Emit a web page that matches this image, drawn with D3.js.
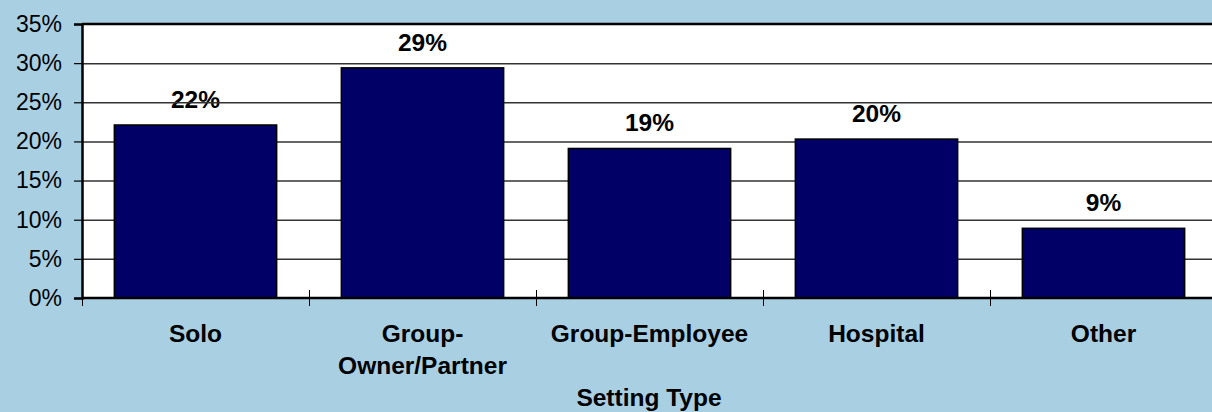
<!DOCTYPE html>
<html>
<head>
<meta charset="utf-8">
<script src="https://cdn.jsdelivr.net/npm/d3@7"></script>
<style>
  body { margin: 0; background: #a9cfe3; }
  svg { display: block; font-family: Arial, "Liberation Sans", sans-serif; }
</style>
</head>
<body>
<svg width="1212" height="412"></svg>
<script>
const categories = ['Solo', 'Group-\nOwner/Partner', 'Group-Employee', 'Hospital', 'Other'];
const values = [22.1, 29.4, 19.1, 20.3, 8.9];
const labels = ['22%', '29%', '19%', '20%', '9%'];
const yTicks = [0, 5, 10, 15, 20, 25, 30, 35];
const xTitle = 'Setting Type';

const svg = d3.select('svg');
const m = { left: 82, top: 24, bottom: 298, right: 1217 };

const x = d3.scaleBand()
  .domain(d3.range(categories.length))
  .range([m.left, m.right])
  .paddingInner(0.285)
  .paddingOuter(0.1425);

const band = d3.scaleBand()
  .domain(d3.range(categories.length))
  .range([m.left, m.right]);

const y = d3.scaleLinear().domain([0, 35]).range([m.bottom, m.top]);

// plot area
svg.append('rect')
  .attr('x', m.left).attr('y', m.top)
  .attr('width', m.right - m.left).attr('height', m.bottom - m.top)
  .attr('fill', '#fff');

// value labels (gridlines run over them)
svg.selectAll('text.val')
  .data(values)
  .enter()
  .append('text')
  .attr('class', 'val')
  .attr('x', (d, i) => x(i) + x.bandwidth() / 2)
  .attr('y', d => y(d) - 17)
  .attr('text-anchor', 'middle')
  .style('font-size', '24.5px')
  .style('font-weight', 'bold')
  .text((d, i) => labels[i]);

// gridlines
svg.selectAll('line.grid')
  .data(yTicks.filter(t => t > 0 && t < 35))
  .enter()
  .append('line')
  .attr('x1', m.left).attr('x2', m.right)
  .attr('y1', d => y(d) + 0.5).attr('y2', d => y(d) + 0.5)
  .attr('stroke', '#333')
  .attr('stroke-width', 1.5);

// top border
svg.append('line')
  .attr('x1', m.left).attr('x2', m.right)
  .attr('y1', m.top).attr('y2', m.top)
  .attr('stroke', '#000')
  .attr('stroke-width', 2.5);

// bars
svg.selectAll('rect.bar')
  .data(values)
  .enter()
  .append('rect')
  .attr('class', 'bar')
  .attr('x', (d, i) => x(i))
  .attr('y', d => y(d))
  .attr('width', x.bandwidth())
  .attr('height', d => y(0) - y(d))
  .attr('fill', '#000066')
  .attr('stroke', '#000')
  .attr('stroke-width', 1.5);

// y axis
const yAxis = svg.append('g')
  .attr('transform', `translate(${m.left},0)`)
  .call(d3.axisLeft(y).tickValues(yTicks).tickFormat(d => d + '%').tickSize(8).tickPadding(12));
yAxis.select('.domain').attr('stroke', '#000').attr('stroke-width', 2.5);
yAxis.selectAll('.tick line').attr('stroke', '#000').attr('stroke-width', 1.2);
yAxis.selectAll('.tick text')
  .style('font-size', '23px')
  .style('font-family', 'Arial, "Liberation Sans", sans-serif')
  .attr('fill', '#000');

// x axis line
svg.append('line')
  .attr('x1', m.left).attr('x2', m.right)
  .attr('y1', m.bottom).attr('y2', m.bottom)
  .attr('stroke', '#000')
  .attr('stroke-width', 2.5);

// x ticks at band boundaries
svg.selectAll('line.xtick')
  .data(d3.range(categories.length + 1))
  .enter()
  .append('line')
  .attr('x1', i => (i < categories.length ? band(i) : m.right) + 0.5)
  .attr('x2', i => (i < categories.length ? band(i) : m.right) + 0.5)
  .attr('y1', m.bottom - 8).attr('y2', m.bottom + 8)
  .attr('stroke', '#000')
  .attr('stroke-width', 1);

// category labels
const cat = svg.selectAll('text.cat')
  .data(categories)
  .enter()
  .append('text')
  .attr('class', 'cat')
  .attr('text-anchor', 'middle')
  .style('font-size', '24.5px')
  .style('font-weight', 'bold');
cat.each(function (d, i) {
  const lines = d.split('\n');
  d3.select(this).selectAll('tspan')
    .data(lines)
    .enter()
    .append('tspan')
    .attr('x', x(i) + x.bandwidth() / 2)
    .attr('y', (l, j) => 342 + j * 32)
    .text(l => l);
});

// axis title
svg.append('text')
  .attr('x', 649)
  .attr('y', 406)
  .attr('text-anchor', 'middle')
  .style('font-size', '24.5px')
  .style('font-weight', 'bold')
  .text(xTitle);
</script>
</body>
</html>
